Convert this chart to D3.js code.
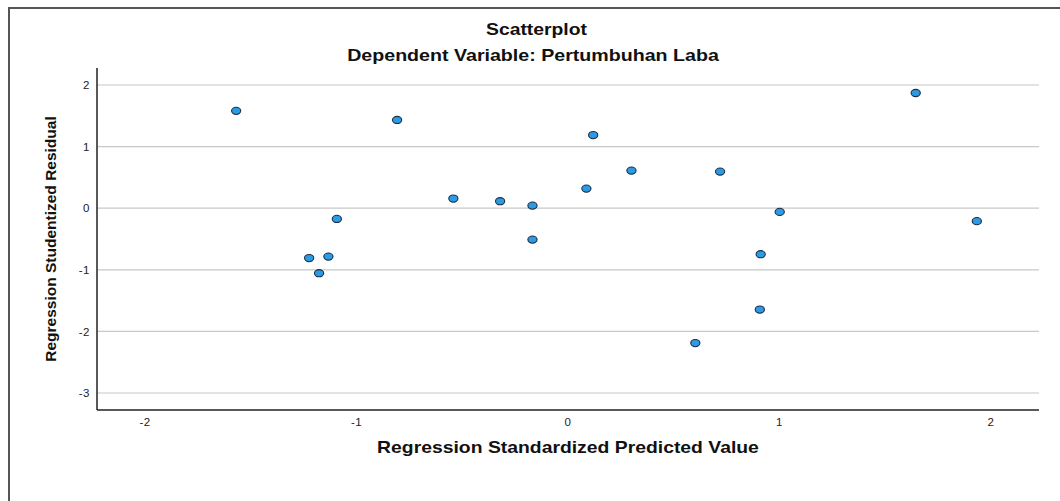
<!DOCTYPE html>
<html>
<head>
<meta charset="utf-8">
<script src="https://cdn.jsdelivr.net/npm/d3@7"></script>
<style>
  body { margin: 0; background: #fff; }
  svg { display: block; }
</style>
</head>
<body>
<div id="chart"></div>
<script>
// Data
const predicted = [-1.567, -0.806, -1.222, -1.131, -1.175, -1.091, -0.540, -0.319, -0.166, -0.166,
                   1.646, 0.121, 0.302, 0.089, 0.721, 1.003, 1.935, 0.913, 0.909, 0.604];
const residual = [1.58, 1.433, -0.81, -0.786, -1.055, -0.174, 0.156, 0.114, 0.042, -0.51,
                  1.87, 1.187, 0.61, 0.318, 0.594, -0.06, -0.21, -0.747, -1.646, -2.19];
const xTicks = [-2, -1, 0, 1, 2];
const yTicks = [2, 1, 0, -1, -2, -3];

const width = 1060;
const height = 501;
const margin = { top: 68, right: 21, bottom: 91, left: 97 };

const svg = d3.select("#chart")
    .append("svg")
    .attr("width", width)
    .attr("height", height);

// outer frame (only top and left edges show in the picture)
svg.append("rect")
    .attr("x", 9)
    .attr("y", 8)
    .attr("width", 1070)
    .attr("height", 520)
    .attr("fill", "none")
    .attr("stroke", "#555")
    .attr("stroke-width", 2);

const x = d3.scaleLinear()
    .domain([-2.225, 2.229])
    .range([margin.left, width - margin.right]);

const y = d3.scaleLinear()
    .domain([-3.276, 2.276])
    .range([height - margin.bottom, margin.top]);

// horizontal grid lines
svg.append("g")
    .selectAll("line")
    .data(yTicks)
    .enter()
    .append("line")
    .attr("x1", margin.left)
    .attr("x2", width - margin.right)
    .attr("y1", d => y(d))
    .attr("y2", d => y(d))
    .attr("stroke", "#c8c8c8")
    .attr("stroke-width", 1.2);

// axes (plain hyphen for negatives, like the original)
const fmt = d => String(d);
const xAxis = svg.append("g")
    .attr("transform", `translate(0, ${height - margin.bottom})`)
    .call(d3.axisBottom(x).tickValues(xTicks).tickSize(0).tickPadding(8).tickFormat(fmt));

const yAxis = svg.append("g")
    .attr("transform", `translate(${margin.left}, 0)`)
    .call(d3.axisLeft(y).tickValues(yTicks).tickSize(0).tickPadding(7).tickFormat(fmt));

[xAxis, yAxis].forEach(function(g) {
    g.select(".domain").attr("stroke", "#222").attr("stroke-width", 1.5);
    g.selectAll("text")
        .attr("font-family", "Liberation Sans, Arial, sans-serif")
        .attr("font-size", "11.5px")
        .attr("letter-spacing", "0.5px")
        .attr("fill", "#222");
});
yAxis.select(".domain").attr("d", `M0,${margin.top}V${height - margin.bottom}`);
xAxis.select(".domain").attr("d", `M${margin.left},0H${width - margin.right}`);

// points
svg.append("g")
    .selectAll("ellipse")
    .data(predicted.map((p, i) => [p, residual[i]]))
    .enter()
    .append("ellipse")
    .attr("cx", d => x(d[0]))
    .attr("cy", d => y(d[1]))
    .attr("rx", 4.6)
    .attr("ry", 3.6)
    .attr("fill", "#2b9be6")
    .attr("stroke", "#1c2f45")
    .attr("stroke-width", 1.1);

// titles: wide bold sans, stretched horizontally to the original's width
function wideText(cx, cy, str, targetWidth) {
    const t = svg.append("text")
        .attr("text-anchor", "middle")
        .attr("font-family", "Liberation Sans, Arial, sans-serif")
        .attr("font-weight", "bold")
        .attr("font-size", "16px")
        .attr("fill", "#111")
        .text(str);
    const w = t.node().getComputedTextLength();
    const s = targetWidth / w;
    t.attr("transform", `translate(${cx}, ${cy}) scale(${s}, 1)`);
}

wideText(536.5, 35, "Scatterplot", 101);
wideText(533, 61, "Dependent Variable: Pertumbuhan Laba", 372);
wideText(568, 453, "Regression Standardized Predicted Value", 382);

svg.append("text")
    .attr("transform", "translate(56, 239) rotate(-90)")
    .attr("text-anchor", "middle")
    .attr("font-family", "Liberation Sans Narrow, Arial Narrow, sans-serif")
    .attr("font-weight", "bold")
    .attr("font-size", "15.5px")
    .attr("fill", "#111")
    .text("Regression Studentized Residual");
</script>
</body>
</html>
